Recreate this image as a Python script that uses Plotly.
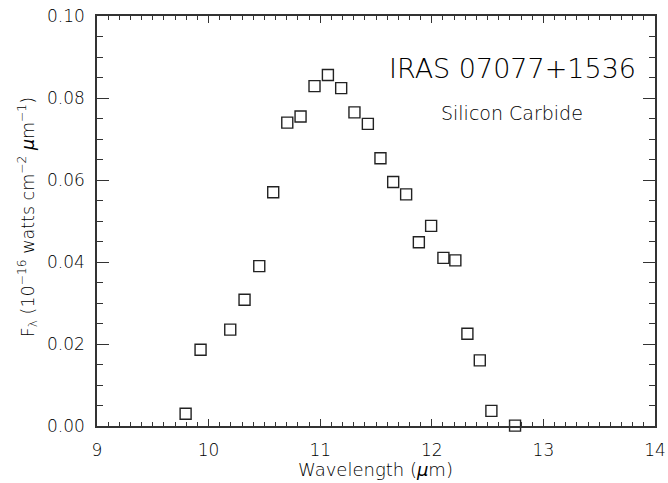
import plotly.graph_objects as go

wavelength = [9.794, 9.928, 10.194, 10.322, 10.454, 10.579, 10.705, 10.824, 10.949, 11.069,
              11.188, 11.307, 11.427, 11.540, 11.654, 11.770, 11.884, 11.994, 12.104, 12.211,
              12.319, 12.430, 12.534, 12.746]
flux = [0.0030, 0.0186, 0.0235, 0.0308, 0.0390, 0.0570, 0.0740, 0.0755, 0.0829, 0.0856,
        0.0824, 0.0765, 0.0737, 0.0653, 0.0595, 0.0565, 0.0448, 0.0488, 0.0410, 0.0404,
        0.0225, 0.0160, 0.0037, 0.0001]

title_text = "IRAS 07077+1536"
subtitle_text = "Silicon Carbide"
x_title = "Wavelength (<i>μ</i>m)"
y_title = "F<sub>λ</sub> (10<sup>−16</sup> watts cm<sup>−2</sup> <i>μ</i>m<sup>−1</sup>)"

FONT = "DejaVu Sans"
INK = "#222222"
TXT = "#000000"

fig = go.Figure()
fig.add_trace(go.Scatter(
    x=wavelength, y=flux, mode="markers",
    marker=dict(symbol="square-open", size=11, color=INK, line=dict(width=1.4, color=INK)),
    cliponaxis=False, showlegend=False,
))

axis_common = dict(
    showgrid=False, zeroline=False, showline=True, linecolor="#333333", linewidth=1.5,
    mirror="ticks", ticks="inside", tickcolor="#333333", tickwidth=1.2, automargin=False,
    tickfont=dict(family=FONT, size=17, color=TXT, weight=200),
)

fig.update_xaxes(
    range=[9, 14], tickmode="linear", tick0=9, dtick=1, ticklen=7,
    minor=dict(dtick=0.1, ticklen=4, ticks="inside", tickcolor="#333333", tickwidth=1.1),
    ticklabelstandoff=8,
    **axis_common,
)
fig.update_yaxes(
    range=[0, 0.1], tickmode="linear", tick0=0, dtick=0.02, ticklen=12, tickformat=".2f",
    minor=dict(dtick=0.005, ticklen=6, ticks="inside", tickcolor="#333333", tickwidth=1.1),
    ticklabelstandoff=7,
    **axis_common,
)

ann_font = lambda s: dict(family=FONT, size=s, color=TXT, weight=200)
fig.add_annotation(x=0.744, y=0.873, xref="paper", yref="paper", text=title_text,
                   xanchor="center", yanchor="middle", showarrow=False, font=ann_font(27))
fig.add_annotation(x=0.744, y=0.763, xref="paper", yref="paper", text=subtitle_text,
                   xanchor="center", yanchor="middle", showarrow=False, font=ann_font(19))
fig.add_annotation(x=0.499, y=-0.107, xref="paper", yref="paper", text=x_title,
                   xanchor="center", yanchor="middle", showarrow=False, font=ann_font(18))
fig.add_annotation(x=-0.123, y=0.51, xref="paper", yref="paper", text=y_title, textangle=-90,
                   xanchor="center", yanchor="middle", showarrow=False, font=ann_font(17.5))

fig.update_layout(
    width=668, height=483,
    margin=dict(l=97, r=13, t=16, b=57, autoexpand=False),
    paper_bgcolor="white", plot_bgcolor="white",
)

fig.write_html("out.html")
